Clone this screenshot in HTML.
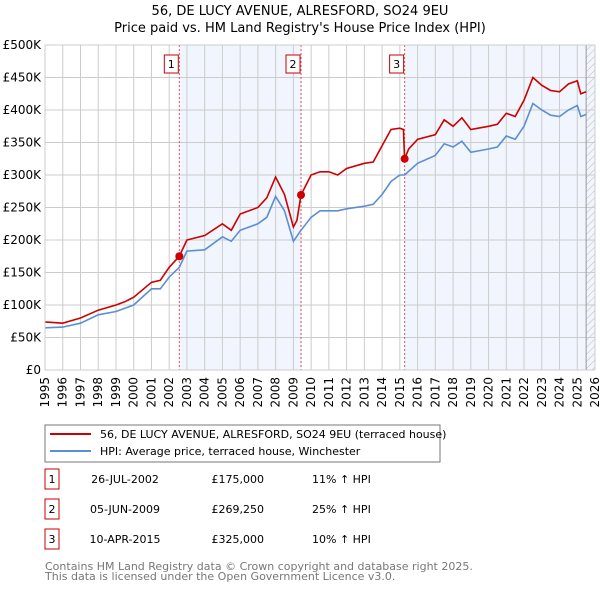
<!DOCTYPE html>
<html><head><meta charset="utf-8"><style>
body{margin:0;background:#fff;font-family:"DejaVu Sans","Liberation Sans",sans-serif;}
svg text{font-family:"DejaVu Sans","Liberation Sans",sans-serif;}
</style></head><body>
<svg id="chart" width="600" height="590" viewBox="0 0 600 590" xmlns="http://www.w3.org/2000/svg">
<defs><pattern id="hatch" width="5" height="5" patternUnits="userSpaceOnUse" patternTransform="rotate(45)"><line x1="0" y1="0" x2="0" y2="5" stroke="#bbb" stroke-width="1"/></pattern></defs>
<text x="300" y="15" text-anchor="middle" font-size="13">56, DE LUCY AVENUE, ALRESFORD, SO24 9EU</text>
<text x="300" y="32" text-anchor="middle" font-size="13">Price paid vs. HM Land Registry's House Price Index (HPI)</text>
<g id="plot"></g>
<g>
<rect x="45" y="425" width="395" height="37" fill="#fff" stroke="#777"/>
<line x1="50" y1="434" x2="91" y2="434" stroke="#cc0000" stroke-width="2"/>
<text x="100" y="438" font-size="11">56, DE LUCY AVENUE, ALRESFORD, SO24 9EU (terraced house)</text>
<line x1="50" y1="451" x2="91" y2="451" stroke="#5b8fd1" stroke-width="2"/>
<text x="100" y="455" font-size="11">HPI: Average price, terraced house, Winchester</text>
</g>
<g id="table" font-size="11"></g>
<text x="45" y="570" font-size="11" fill="#777">Contains HM Land Registry data © Crown copyright and database right 2025.</text>
<text x="45" y="580" font-size="11" fill="#777">This data is licensed under the Open Government Licence v3.0.</text>
</svg>
<script>
const yTicks=[0,50000,100000,150000,200000,250000,300000,350000,400000,450000,500000];
const yLabels=["£0","£50K","£100K","£150K","£200K","£250K","£300K","£350K","£400K","£450K","£500K"];
const years=[1995,1996,1997,1998,1999,2000,2001,2002,2003,2004,2005,2006,2007,2008,2009,2010,2011,2012,2013,2014,2015,2016,2017,2018,2019,2020,2021,2022,2023,2024,2025,2026];
const redT=[1995,1996,1997,1998,1999,1999.5,2000,2001,2001.5,2002,2002.57,2003,2004,2005,2005.5,2006,2007,2007.5,2008,2008.5,2009,2009.2,2009.43,2010,2010.5,2011,2011.5,2012,2013,2013.5,2014,2014.5,2015,2015.2,2015.27,2015.5,2016,2017,2017.5,2018,2018.5,2019,2020,2020.5,2021,2021.5,2022,2022.5,2023,2023.5,2024,2024.5,2025,2025.2,2025.5];
const redV=[74000,72000,80000,92000,100000,105000,112000,135000,138000,158000,175000,200000,207000,225000,215000,240000,250000,265000,297000,270000,220000,230000,269250,300000,305000,305000,300000,310000,318000,320000,345000,370000,372000,370000,325000,340000,355000,362000,385000,375000,388000,370000,375000,378000,395000,390000,415000,450000,438000,430000,428000,440000,445000,425000,428000];
const blueT=[1995,1996,1997,1998,1999,1999.5,2000,2001,2001.5,2002,2002.57,2003,2004,2005,2005.5,2006,2007,2007.5,2008,2008.5,2009,2009.43,2010,2010.5,2011,2011.5,2012,2013,2013.5,2014,2014.5,2015,2015.27,2016,2017,2017.5,2018,2018.5,2019,2020,2020.5,2021,2021.5,2022,2022.5,2023,2023.5,2024,2024.5,2025,2025.2,2025.5];
const blueV=[65000,66000,72000,85000,90000,95000,100000,125000,125000,143000,158000,183000,185000,205000,198000,215000,225000,235000,267000,245000,198000,215000,235000,245000,245000,245000,248000,252000,255000,270000,290000,300000,300000,318000,330000,348000,343000,352000,335000,340000,343000,360000,355000,375000,410000,400000,392000,390000,400000,407000,390000,393000];
const saleT=[2002.57,2009.43,2015.27];
const saleV=[175000,269250,325000];
const saleDates=["26-JUL-2002","05-JUN-2009","10-APR-2015"];
const salePrices=["£175,000","£269,250","£325,000"];
const saleHpi=["11% ↑ HPI","25% ↑ HPI","10% ↑ HPI"];
const X0=45,X1=595,Y0=370,Y1=45;
const xs=t=>X0+(t-1995)/(2026-1995)*(X1-X0);
const ys=v=>Y0-v/500000*(Y0-Y1);
const NS="http://www.w3.org/2000/svg";
const plot=document.getElementById('plot');
function mk(tag,attrs,parent){const e=document.createElementNS(NS,tag);for(const k in attrs)e.setAttribute(k,attrs[k]);(parent||plot).appendChild(e);return e;}
let r=mk('rect',{x:xs(saleT[0]),y:Y1,width:xs(saleT[1])-xs(saleT[0]),height:Y0-Y1,fill:'#eef3fc',opacity:0.8});


r=mk('rect',{x:xs(saleT[2]),y:Y1,width:X1-xs(saleT[2]),height:Y0-Y1,fill:'#eef3fc',opacity:0.8});


r=mk('rect',{x:xs(2025.5),y:Y1,width:X1-xs(2025.5),height:Y0-Y1,fill:'url(#hatch)'});


yTicks.forEach((v,i)=>{
 const l=mk('line',{x1:X0,x2:X1,y1:ys(v),y2:ys(v),stroke:'#ccc'});
 
 
 const t=mk('text',{x:X0-4,y:ys(v)+4,'text-anchor':'end','font-size':12});
 t.textContent=yLabels[i];
 
 
});
years.forEach(y=>{
 const l=mk('line',{x1:xs(y),x2:xs(y),y1:Y1,y2:Y0,stroke:'#ccc'});
 
 
 const px=xs(y)+4, py=Y0+7;
 const t=mk('text',{x:px,y:py,'text-anchor':'end','font-size':12,transform:'rotate(-90 '+px+' '+py+')'});
 t.textContent=y;
 
 
});
const ed=mk('line',{x1:xs(2025.5),x2:xs(2025.5),y1:Y1,y2:Y0,stroke:'#999'});


saleT.forEach((t,i)=>{
 const l=mk('line',{x1:xs(t),x2:xs(t),y1:Y1,y2:Y0,stroke:'#e05050','stroke-dasharray':'2,2'});
 
 
 const b=mk('rect',{x:xs(t)-15,y:55,width:14,height:18,fill:'#fff',stroke:'#cc0000'});
 
 
 const tx=mk('text',{x:xs(t)-8,y:68,'text-anchor':'middle','font-size':11});
 tx.textContent=i+1;
 
 
});
function path(T,V,c,name){
 const d=T.map((t,i)=>(i?'L':'M')+xs(t).toFixed(1)+','+ys(V[i]).toFixed(1)).join('');
 const p=mk('path',{d:d,fill:'none',stroke:c,'stroke-width':1.6});
 
 
}
path(blueT,blueV,'#5b8fd1','hpi-line');
path(redT,redV,'#cc0000','price-line');
saleT.forEach((t,i)=>{
 const c=mk('circle',{cx:xs(t),cy:ys(saleV[i]),r:4,fill:'#cc0000'});
 
 
});
mk('rect',{x:X0,y:Y1,width:X1-X0,height:Y0-Y1,fill:'none',stroke:'#ccc'});
const tb=document.getElementById('table');
saleT.forEach((t,i)=>{
 const y=483+i*30;
 const b=mk('rect',{x:45,y:y-14,width:14,height:20,fill:'#fff',stroke:'#cc0000'},tb);
 
 
 const cells=[[52,String(i+1),'middle'],[125,saleDates[i],'middle'],[264,salePrices[i],'end'],[312,saleHpi[i],'start']];
 cells.forEach(c=>{
  const e=mk('text',{x:c[0],y:y,'text-anchor':c[2]},tb);
  e.textContent=c[1];
  
  
 });
});
</script>
</body></html>
